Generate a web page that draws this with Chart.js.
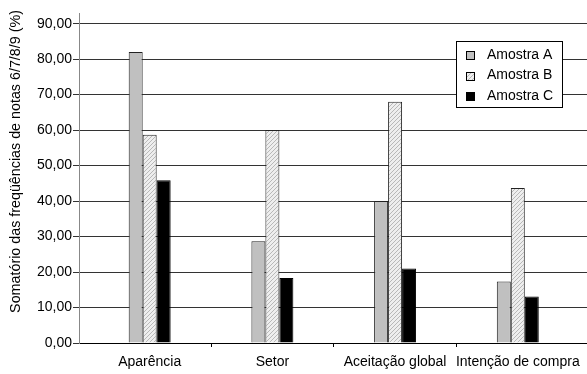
<!DOCTYPE html>
<html>
<head>
<meta charset="utf-8">
<script src="https://cdn.jsdelivr.net/npm/chart.js@4/dist/chart.umd.min.js"></script>
<style>
  html, body { margin: 0; padding: 0; overflow: hidden; background: #fff; }
  #wrap { position: relative; width: 587px; height: 374px; }
</style>
</head>
<body>
<div id="wrap"><canvas id="c"></canvas></div>
<script>
// Attributes evaluated and the three samples
const categories = ['Aparência', 'Setor', 'Aceitação global', 'Intenção de compra'];
const seriesNames = ['Amostra A', 'Amostra B', 'Amostra C'];
const amostraA = [82.0, 28.7, 40.0, 17.3];
const amostraB = [58.7, 60.0, 68.0, 43.7];
const amostraC = [45.9, 18.3, 21.0, 13.1];
const yTickValues = [0, 10, 20, 30, 40, 50, 60, 70, 80, 90];
const yTitle = 'Somatório das freqüências de notas 6/7/8/9 (%)';

const FONT = '"Liberation Sans", Arial, sans-serif';
const canvas = document.getElementById('c');
const ctx = canvas.getContext('2d');

// light diagonal hatch for the second sample
function hatchPattern() {
  const p = document.createElement('canvas');
  p.width = 4; p.height = 4;
  const g = p.getContext('2d');
  g.fillStyle = '#eeeeee';
  g.fillRect(0, 0, 4, 4);
  g.fillStyle = '#b8b8b8';
  for (let i = 0; i < 4; i++) g.fillRect(i, 3 - i, 1, 1);
  return ctx.createPattern(p, 'repeat');
}

const toPoints = arr => arr.map((v, i) => ({ x: i, y: v }));

// boxed legend drawn inside the plot, upper right
const boxLegend = {
  id: 'boxLegend',
  afterDraw(chart) {
    const c = chart.ctx;
    c.save();
    const bx = 456.5, by = 41.5, bw = 106, bh = 66;
    c.fillStyle = '#fff';
    c.fillRect(bx, by, bw, bh);
    c.strokeStyle = '#000';
    c.lineWidth = 1;
    c.strokeRect(bx, by, bw, bh);
    c.font = '14px ' + FONT;
    c.textBaseline = 'middle';
    chart.data.datasets.forEach((ds, i) => {
      const cy = 55 + i * 20.5;
      c.fillStyle = ds.backgroundColor;
      c.fillRect(466.5, Math.round(cy - 4) + 0.5, 8, 8);
      c.strokeStyle = '#000';
      c.strokeRect(466.5, Math.round(cy - 4) + 0.5, 8, 8);
      c.fillStyle = '#000';
      c.fillText(ds.label, 487, cy);
    });
    c.restore();
  }
};

// rotated y-axis title
const yAxisTitle = {
  id: 'yAxisTitle',
  afterDraw(chart) {
    const c = chart.ctx;
    c.save();
    c.translate(16.5, 161.5);
    c.rotate(-Math.PI / 2);
    c.font = '14.3px ' + FONT;
    c.fillStyle = '#000';
    c.textAlign = 'center';
    c.textBaseline = 'middle';
    c.fillText(yTitle, 0, 0);
    c.restore();
  }
};

new Chart(canvas, {
  type: 'bar',
  data: {
    datasets: [
      { label: seriesNames[0], data: toPoints(amostraA), backgroundColor: '#c0c0c0', borderColor: '#222', borderWidth: 1 },
      { label: seriesNames[1], data: toPoints(amostraB), backgroundColor: hatchPattern(), borderColor: '#222', borderWidth: 1 },
      { label: seriesNames[2], data: toPoints(amostraC), backgroundColor: '#000000', borderColor: '#000', borderWidth: 1 }
    ]
  },
  options: {
    responsive: true,
    maintainAspectRatio: false,
    animation: false,
    devicePixelRatio: 1,
    layout: { padding: { top: 13, left: 0, right: 0, bottom: 0 } },
    datasets: { bar: { categoryPercentage: 0.684, barPercentage: 1.0, borderSkipped: 'start' } },
    plugins: { legend: { display: false }, tooltip: { enabled: false } },
    scales: {
      x: {
        type: 'linear',
        offset: false,
        bounds: 'data',
        min: -0.576,
        max: 3.564,
        afterBuildTicks(scale) {
          const t = [];
          categories.forEach((_, i) => {
            t.push({ value: i });
            if (i < categories.length - 1) t.push({ value: i + 0.5 });
          });
          scale.ticks = t;
        },
        afterFit(scale) {
          scale.height = 31;
          scale.paddingLeft = 0;
          scale.paddingRight = 0;
        },
        grid: {
          offset: false,
          drawOnChartArea: false,
          drawTicks: true,
          tickLength: 4,
          color: c => (c.tick && Number.isInteger(c.tick.value)) ? 'rgba(0,0,0,0)' : '#000'
        },
        border: { display: true, color: '#000', width: 1 },
        ticks: {
          autoSkip: false,
          maxRotation: 0,
          minRotation: 0,
          padding: 7,
          color: '#000',
          font: { family: FONT, size: 14 },
          callback: v => Number.isInteger(v) ? categories[v] : ''
        }
      },
      y: {
        min: 0,
        max: 93,
        afterBuildTicks(scale) {
          scale.ticks = yTickValues.map(v => ({ value: v }));
        },
        afterFit(scale) {
          scale.width = 79;
          scale.paddingTop = 0;
          scale.paddingBottom = 0;
        },
        grid: { color: '#333', lineWidth: 1, drawTicks: true, tickLength: 6 },
        border: { display: true, color: '#888', width: 1 },
        ticks: {
          padding: 1,
          color: '#000',
          font: { family: FONT, size: 14 },
          callback: v => v.toFixed(2).replace('.', ',')
        }
      }
    }
  },
  plugins: [boxLegend, yAxisTitle]
});
</script>
</body>
</html>
